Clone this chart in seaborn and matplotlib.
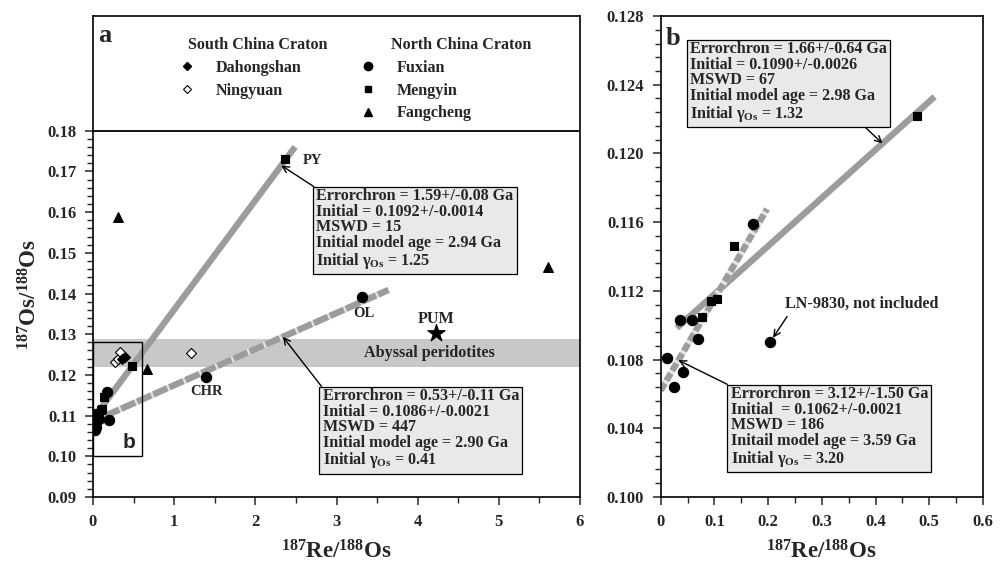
import numpy as np
import matplotlib
matplotlib.use("Agg")
import matplotlib.pyplot as plt
from matplotlib.patches import Rectangle
from matplotlib.lines import Line2D
from matplotlib.ticker import FixedLocator, FuncFormatter
import seaborn as sns

# ---- sample data: 187Re/188Os vs 187Os/188Os ----
dahongshan_re = [0.36, 0.40]
dahongshan_os = [0.1238, 0.1243]
ningyuan_re = [0.27, 0.31, 0.33, 1.21]
ningyuan_os = [0.1232, 0.1240, 0.1256, 0.1253]
fuxian_re = [0.0124, 0.0254, 0.036, 0.0421, 0.0589, 0.0686, 0.1725, 0.2035, 1.39, 3.32]
fuxian_os = [0.1081, 0.1064, 0.1103, 0.1073, 0.1103, 0.1092, 0.1159, 0.1090, 0.1196, 0.1391]
mengyin_re = [0.077, 0.094, 0.105, 0.137, 0.477, 2.36]
mengyin_os = [0.1105, 0.1114, 0.1115, 0.1146, 0.1222, 0.1730]
fangcheng_re = [0.31, 0.66, 5.61]
fangcheng_os = [0.1587, 0.1214, 0.1466]
pum_re = [4.23]
pum_os = [0.1304]
abyssal_os = [0.1220, 0.1288]

# ---- errorchron results (panel a: two fits, panel b: two fits) ----
fit_age = [1.59, 0.53, 1.66, 3.12]
fit_age_err = ["0.08", "0.11", "0.64", "1.50"]
fit_initial = [0.1092, 0.1086, 0.1090, 0.1062]
fit_initial_err = ["0.0014", "0.0021", "0.0026", "0.0021"]
fit_mswd = [15, 447, 67, 186]
fit_model_age = ["2.94", "2.90", "2.98", "3.59"]
fit_gamma = ["1.25", "0.41", "1.32", "3.20"]
fit_x_start = [0.0, 0.15, 0.03, 0.0]
fit_x_end = [2.49, 3.64, 0.51, 0.198]

LAMBDA_RE = 1.666e-11  # 187Re decay constant, 1/yr

sns.set_style("ticks")
plt.rcParams.update({
    "font.family": ["Liberation Serif", "DejaVu Serif"],
    "font.weight": "bold",
    "axes.labelweight": "bold",
    "mathtext.fontset": "custom",
    "mathtext.rm": "Liberation Serif:bold",
    "mathtext.it": "Liberation Serif:bold",
    "mathtext.bf": "Liberation Serif:bold",
    "axes.linewidth": 1.2,
})

fig = plt.figure(figsize=(10.03, 5.62), dpi=100)
ax_a = fig.add_axes([0.0927, 0.1157, 0.4856, 0.8558])
ax_b = fig.add_axes([0.6587, 0.1157, 0.3213, 0.8558])

LINE_GRAY = "#9c9c9c"
BOX_FC = "#e9e9e9"
TXT = dict(fontweight="bold")


def fit_line(i):
    slope = np.exp(LAMBDA_RE * fit_age[i] * 1e9) - 1.0
    x = np.array([fit_x_start[i], fit_x_end[i]])
    return x, fit_initial[i] + slope * x, slope


def draw_fit(ax, i, striped, dashes=(2.4, 0.35)):
    x, y, _ = fit_line(i)
    if striped:
        ax.plot(x, y, color="#e4e4e4", lw=4.6, solid_capstyle="butt", zorder=2)
        ax.plot(x, y, color=LINE_GRAY, lw=4.6, dashes=dashes,
                dash_capstyle="butt", zorder=2)
    else:
        ax.plot(x, y, color=LINE_GRAY, lw=4.6, solid_capstyle="butt", zorder=2)


def fit_text(i, initial_label="Initial = ", model_label="Initial model age = "):
    return (f"Errorchron = {fit_age[i]:.2f}+/-{fit_age_err[i]} Ga\n"
            f"{initial_label}{fit_initial[i]:.4f}+/-{fit_initial_err[i]}\n"
            f"MSWD = {fit_mswd[i]}\n"
            f"{model_label}{fit_model_age[i]} Ga\n"
            f"Initial $\\gamma_{{Os}}$ = {fit_gamma[i]}")


def fit_box(ax, i, x_arrow, xytext, relpos, **kw):
    _, _, slope = fit_line(i)
    xy = (x_arrow, fit_initial[i] + slope * x_arrow)
    ax.annotate(fit_text(i, **kw), xy=xy, xytext=xytext, ha="left", va="top",
                fontsize=11.6, linespacing=0.97, zorder=6, **TXT,
                bbox=dict(boxstyle="square,pad=0.2", fc=BOX_FC, ec="black", lw=0.9),
                arrowprops=dict(arrowstyle="->", color="black", lw=1.0,
                                relpos=relpos, shrinkA=0, shrinkB=0))


def scatter_groups(ax, groups):
    for xs, ys, mk, size, fc in groups:
        sns.scatterplot(x=xs, y=ys, marker=mk, s=size, color=fc,
                        edgecolor="black", linewidth=0.8, ax=ax, zorder=4,
                        legend=False)


# ================= panel a =================
ax = ax_a
ax.set_xlim(0, 6)
ax.set_ylim(0.09, 0.2082)
ax.axhspan(abyssal_os[0], abyssal_os[1], color="#c8c8c8", lw=0, zorder=0)
ax.text(4.15, 0.1254, "Abyssal peridotites", ha="center", va="center",
        fontsize=11.6, **TXT)
ax.axhline(0.18, color="black", lw=1.3, zorder=3)

draw_fit(ax, 0, striped=False)
draw_fit(ax, 1, striped=True)

scatter_groups(ax, [
    (ningyuan_re, ningyuan_os, "D", 26, "white"),
    (dahongshan_re, dahongshan_os, "D", 26, "black"),
    (fuxian_re, fuxian_os, "o", 55, "black"),
    (mengyin_re, mengyin_os, "s", 32, "black"),
    (fangcheng_re, fangcheng_os, "^", 50, "black"),
    (pum_re, pum_os, "*", 170, "black"),
])

ax.text(2.59, 0.1726, "PY", ha="left", va="center", fontsize=10.5, **TXT)
ax.text(3.34, 0.1351, "OL", ha="center", va="center", fontsize=10.5, **TXT)
ax.text(4.23, 0.1337, "PUM", ha="center", va="center", fontsize=11.5, **TXT)
ax.text(1.40, 0.1159, "CHR", ha="center", va="center", fontsize=10.5, **TXT)

# outline of the enlarged area shown in panel b
ax.add_patch(Rectangle((0, 0.100), 0.6, 0.028, fill=False, ec="black", lw=1.0, zorder=3))
ax.text(0.44, 0.1033, "b", ha="center", va="center", fontsize=15,
        family="Liberation Sans", weight="bold")

fit_box(ax, 0, 2.32, (2.75, 0.1659), (0, 1))
fit_box(ax, 1, 2.34, (2.83, 0.1168), (0, 1))

ax.text(0.06, 0.2035, "a", ha="left", va="center", fontsize=19, **TXT)

# legend: South China Craton / North China Craton
ax.text(0.195, 0.9402, "South China Craton", transform=ax.transAxes,
        ha="left", va="center", fontsize=11.6, **TXT)
ax.text(0.612, 0.9402, "North China Craton", transform=ax.transAxes,
        ha="left", va="center", fontsize=11.6, **TXT)
south = [Line2D([], [], ls="", marker="D", ms=4.5, mfc="black", mec="black"),
         Line2D([], [], ls="", marker="D", ms=4.5, mfc="white", mec="black", mew=0.8)]
north = [Line2D([], [], ls="", marker="o", ms=6, mfc="black", mec="black"),
         Line2D([], [], ls="", marker="s", ms=5, mfc="black", mec="black"),
         Line2D([], [], ls="", marker="^", ms=6, mfc="black", mec="black")]
leg_kw = dict(frameon=False, prop=dict(size=11.6, weight="bold"), handlelength=0.6,
              handletextpad=1.5, labelspacing=0.42, borderpad=0, borderaxespad=0,
              loc="upper left")
leg1 = ax.legend(south, ["Dahongshan", "Ningyuan"], bbox_to_anchor=(0.183, 0.909), **leg_kw)
ax.add_artist(leg1)
ax.legend(north, ["Fuxian", "Mengyin", "Fangcheng"], bbox_to_anchor=(0.555, 0.909), **leg_kw)

ax.yaxis.set_major_locator(FixedLocator(np.round(np.arange(0.09, 0.1801, 0.01), 3)))
ax.yaxis.set_minor_locator(FixedLocator(np.round(np.arange(0.09, 0.1801, 0.002), 4)))
ax.yaxis.set_major_formatter(FuncFormatter(lambda v, p: f"{v:.2f}"))
ax.xaxis.set_major_locator(FixedLocator(np.arange(0, 7, 1)))
ax.xaxis.set_minor_locator(FixedLocator(np.arange(0, 6.01, 0.5)))
ax.xaxis.set_major_formatter(FuncFormatter(lambda v, p: f"{v:.0f}"))
ax.set_ylabel("$^{187}$Os/$^{188}$Os", fontsize=16.5)
ax.yaxis.set_label_coords(-0.105, 0.42)
ax.set_xlabel("$^{187}$Re/$^{188}$Os", fontsize=16.5, labelpad=8)

# ================= panel b =================
ax = ax_b
ax.set_xlim(0, 0.6)
ax.set_ylim(0.100, 0.128)

draw_fit(ax, 2, striped=False)
draw_fit(ax, 3, striped=True, dashes=(1.3, 0.5))

scatter_groups(ax, [
    (fuxian_re, fuxian_os, "o", 55, "black"),
    (mengyin_re, mengyin_os, "s", 32, "black"),
])

fit_box(ax, 2, 0.413, (0.0546, 0.12654), (0.87, 0))
fit_box(ax, 3, 0.033, (0.1303, 0.10646), (0, 1),
        initial_label="Initial  = ", model_label="Initail model age = ")

ax.annotate("LN-9830, not included", xy=(fuxian_re[7], fuxian_os[7]),
            xytext=(0.375, 0.11123), ha="center", va="center", fontsize=11.6, **TXT,
            arrowprops=dict(arrowstyle="->", color="black", lw=1.0,
                            relpos=(0.03, 0), shrinkA=1, shrinkB=4))

ax.text(0.010, 0.1267, "b", ha="left", va="center", fontsize=19, **TXT)

ax.yaxis.set_major_locator(FixedLocator(np.round(np.arange(0.100, 0.1281, 0.004), 3)))
ax.yaxis.set_minor_locator(FixedLocator(np.round(np.arange(0.100, 0.1281, 0.0008), 4)))
ax.yaxis.set_major_formatter(FuncFormatter(lambda v, p: f"{v:.3f}"))
ax.xaxis.set_major_locator(FixedLocator(np.round(np.arange(0, 0.61, 0.1), 2)))
ax.xaxis.set_minor_locator(FixedLocator(np.round(np.arange(0, 0.61, 0.05), 2)))
ax.xaxis.set_major_formatter(FuncFormatter(lambda v, p: "0" if v == 0 else f"{v:.1f}"))
ax.set_xlabel("$^{187}$Re/$^{188}$Os", fontsize=16.5, labelpad=8)

for a in (ax_a, ax_b):
    a.tick_params(which="major", direction="out", length=6, width=1.1,
                  labelsize=12, pad=6, right=False, top=False)
    a.tick_params(which="minor", direction="out", length=4, width=1.0,
                  right=False, top=False)
    for lbl in a.get_xticklabels() + a.get_yticklabels():
        lbl.set_fontweight("bold")
    for sp in a.spines.values():
        sp.set_visible(True)
        sp.set_color("black")
        sp.set_linewidth(1.2)

fig.savefig("out.png", dpi=100)
